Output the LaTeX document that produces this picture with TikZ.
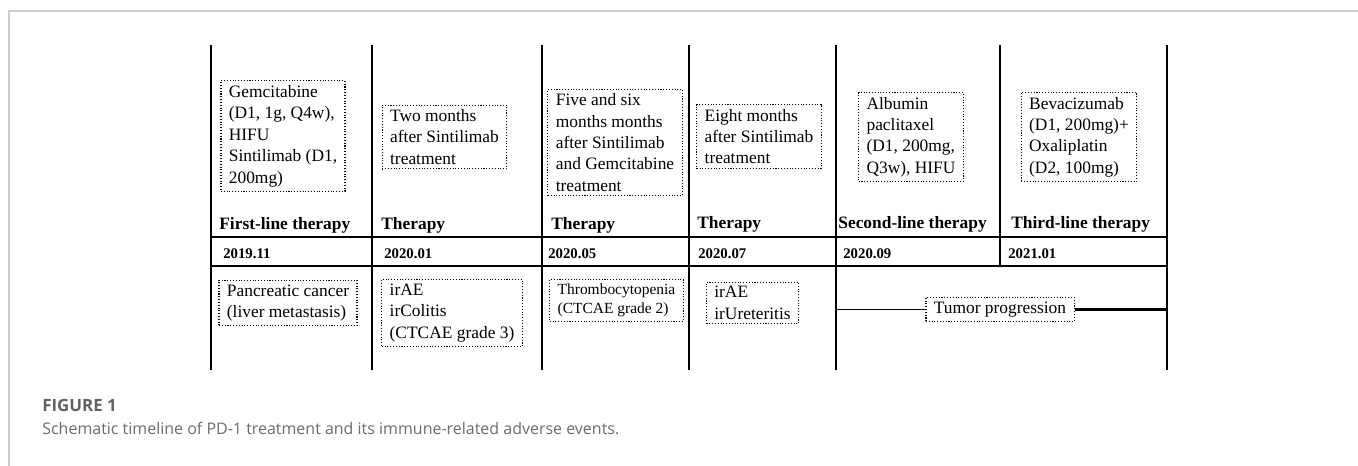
\documentclass[tikz,border=0pt]{standalone}
\usepackage{fontspec}
\setmainfont{Liberation Serif}
\newfontfamily\capfont{Open Sans}
\begin{document}
\begin{tikzpicture}[x=0.02cm, y=-0.02cm]
	\tikzset{kasten/.style={draw=black, densely dotted, line width=0.6pt, align=left, inner xsep=4.5pt, inner ysep=2.5pt, font=\fontsize{9.9}{12.2}\selectfont}}
	\tikzset{titel/.style={anchor=base west, inner sep=0, font=\fontsize{9.9}{12}\selectfont\bfseries}}
	\tikzset{datum/.style={anchor=base west, inner sep=0, font=\fontsize{8.4}{10}\selectfont\bfseries}}
	\tikzset{linie/.style={line width=1pt, draw=black}}
	\useasboundingbox (0,0) rectangle (1358,466);

	% page frame
	\coordinate (ra) at (9,466);
	\coordinate (rb) at (9,11);
	\coordinate (rc) at (1358,11);
	\draw[line width=0.9pt, draw=black!20] (ra) -- (rb) -- (rc);

	% table corners
	\coordinate (p1) at (211,45);  \coordinate (q1) at (211,370);
	\coordinate (p2) at (372,45);  \coordinate (q2) at (372,370);
	\coordinate (p3) at (542,45);  \coordinate (q3) at (542,370);
	\coordinate (p4) at (689,45);  \coordinate (q4) at (689,370);
	\coordinate (p5) at (836,45);  \coordinate (q5) at (836,370);
	\coordinate (p6) at (1000,45); \coordinate (q6) at (1000,266);
	\coordinate (p7) at (1167,45); \coordinate (q7) at (1167,370);
	\coordinate (h1) at (211,237); \coordinate (h2) at (1167,237);
	\coordinate (h3) at (211,266); \coordinate (h4) at (1167,266);

	\draw[linie] (p1) -- (q1);
	\draw[linie] (p2) -- (q2);
	\draw[linie] (p3) -- (q3);
	\draw[linie] (p4) -- (q4);
	\draw[linie] (p5) -- (q5);
	\draw[linie] (p6) -- (q6);
	\draw[linie] (p7) -- (q7);
	\draw[linie] (h1) -- (h2);
	\draw[linie] (h3) -- (h4);

	% treatments
	\node[kasten] at (283,136) (t1) {Gemcitabine\\(D1, 1g, Q4w),\\HIFU\\Sintilimab (D1,\\200mg)};
	\node[kasten] at (444.5,137) (t2) {Two months\\after Sintilimab\\treatment};
	\node[kasten] at (615,142.5) (t3) {Five and six\\months months\\after Sintilimab\\and Gemcitabine\\treatment};
	\node[kasten] at (759,136.5) (t4) {Eight months\\after Sintilimab\\treatment};
	\node[kasten] at (911,137) (t5) {Albumin\\paclitaxel\\(D1, 200mg,\\Q3w), HIFU};
	\node[kasten] at (1079,137) (t6) {Bevacizumab\\(D1, 200mg)+\\Oxaliplatin\\(D2, 100mg)};

	\node[titel] at (219,229) (l1) {First-line therapy};
	\node[titel] at (381,229) (l2) {Therapy};
	\node[titel] at (551,229) (l3) {Therapy};
	\node[titel] at (697,228) (l4) {Therapy};
	\node[titel] at (838,228) (l5) {Second-line therapy};
	\node[titel] at (1011,228) (l6) {Third-line therapy};

	\node[datum] at (223,258) (d1) {2019.11};
	\node[datum] at (384,258) (d2) {2020.01};
	\node[datum] at (548,258) (d3) {2020.05};
	\node[datum] at (698,258) (d4) {2020.07};
	\node[datum] at (843,258) (d5) {2020.09};
	\node[datum] at (1008,258) (d6) {2021.01};

	% adverse events
	\node[kasten] at (288,303) (u1) {Pancreatic cancer\\(liver metastasis)};
	\node[kasten] at (452,313) (u2) {irAE\\irColitis\\(CTCAE grade 3)};
	\node[kasten, font=\fontsize{8.8}{10.8}\selectfont] at (616.5,300.5) (u3) {Thrombocytopenia\\(CTCAE grade 2)};
	\node[kasten] at (752.5,303) (u4) {irAE\\irUreteritis};
	\node[kasten] at (1000,309.5) (u5) {Tumor progression};

	\coordinate (s1) at (836,309.5);
	\coordinate (s2) at (1167,309.5);
	\draw[linie] (s1) -- (u5.west);
	\draw[linie, line width=1.15pt] (u5.east) -- (s2);

	% caption
	\node[anchor=base west, inner sep=0, font=\capfont\fontsize{9.6}{11}\selectfont\bfseries, text=black!62] at (42,411) (f1) {FIGURE 1};
	\node[anchor=base west, inner sep=0, font=\capfont\fontsize{9.1}{11}\selectfont, text=black!58] at (42,434) (f2) {Schematic timeline of PD-1 treatment and its immune-related adverse events.};
\end{tikzpicture}
\end{document}
